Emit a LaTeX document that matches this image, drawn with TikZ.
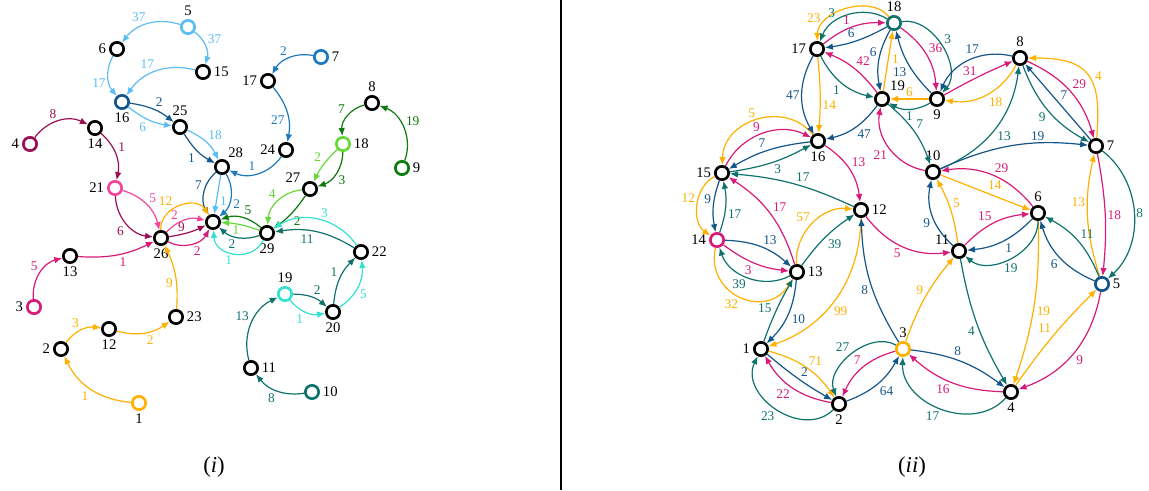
\documentclass[tikz,border=0pt]{standalone}
\usepackage{fontspec}
\setmainfont{Liberation Serif}
\usetikzlibrary{arrows.meta}

\definecolor{clblue}{HTML}{5BBDF4}
\definecolor{cdblue}{HTML}{15568A}
\definecolor{cmblue}{HTML}{1A7AC0}
\definecolor{cdmag}{HTML}{9B0F57}
\definecolor{cpink}{HTML}{F2479E}
\definecolor{cmag}{HTML}{D81B78}
\definecolor{corange}{HTML}{FFB000}
\definecolor{cdgreen}{HTML}{0B7A0B}
\definecolor{clgreen}{HTML}{66D83A}
\definecolor{cteal}{HTML}{0F726C}
\definecolor{ccyan}{HTML}{33E0D2}

\begin{document}
\begin{tikzpicture}[x=0.75pt,y=-0.75pt,
	vtx/.style={circle,draw=black,line width=2pt,minimum size=10pt,inner sep=0pt,fill=white},
	every label/.style={font=\fontsize{11}{11}\selectfont,inner sep=1pt,text=black},
	label distance=1pt,
	ed/.style={line width=0.9pt,-{Latex[length=6pt,width=5pt]}},
	lbl/.style={font=\fontsize{10}{10}\selectfont,inner sep=1.5pt,auto},
	elb/.style={ed,color=clblue}, edb/.style={ed,color=cdblue},
	emb/.style={ed,color=cmblue}, edm/.style={ed,color=cdmag},
	epk/.style={ed,color=cpink}, emg/.style={ed,color=cmag},
	eor/.style={ed,color=corange}, edg/.style={ed,color=cdgreen},
	elg/.style={ed,color=clgreen}, etl/.style={ed,color=cteal},
	ecy/.style={ed,color=ccyan}]
	\useasboundingbox (0,0) rectangle (1149,490);

	% separator between the two panels
	\draw[line width=1.6pt] (561,0) -- (561,490);

	% ---------- panel (i): vertices
	\node[vtx] (a0) at (213,222) {};
	\node[vtx,draw=corange,label=below:1] (a1) at (139,403) {};
	\node[vtx,label=left:2] (a2) at (61,349) {};
	\node[vtx,draw=cmag,label=left:3] (a3) at (34,307) {};
	\node[vtx,draw=cdmag,label=left:4] (a4) at (30,144) {};
	\node[vtx,draw=clblue,label=above:5] (a5) at (188,27) {};
	\node[vtx,label=left:6] (a6) at (117,49) {};
	\node[vtx,draw=cmblue,label=right:7] (a7) at (321,57) {};
	\node[vtx,label=above:8] (a8) at (372,103) {};
	\node[vtx,draw=cdgreen,label=right:9] (a9) at (402,168) {};
	\node[vtx,draw=cteal,label=right:10] (a10) at (312,392) {};
	\node[vtx,label=right:11] (a11) at (251,368) {};
	\node[vtx,label=below:12] (a12) at (109,329) {};
	\node[vtx,label=below:13] (a13) at (70,256) {};
	\node[vtx,label=below:14] (a14) at (95,128) {};
	\node[vtx,label=right:15] (a15) at (203,72) {};
	\node[vtx,draw=cdblue,label=below:16] (a16) at (122,102) {};
	\node[vtx,label=left:17] (a17) at (268,81) {};
	\node[vtx,draw=clgreen,label=right:18] (a18) at (343,144) {};
	\node[vtx,draw=ccyan,label=above:19] (a19) at (285,294) {};
	\node[vtx,label=below:20] (a20) at (333,312) {};
	\node[vtx,draw=cpink,label=left:21] (a21) at (115,188) {};
	\node[vtx,label=right:22] (a22) at (361,252) {};
	\node[vtx,label=right:23] (a23) at (176,317) {};
	\node[vtx,label=left:24] (a24) at (286,150) {};
	\node[vtx,label=above:25] (a25) at (180,127) {};
	\node[vtx,label=below:26] (a26) at (161,238) {};
	\node[vtx,label=150:27] (a27) at (310,189) {};
	\node[vtx,label=60:28] (a28) at (222,167) {};
	\node[vtx,label=below:29] (a29) at (267,233) {};
	\node (capi) at (214,467) {\fontsize{17}{17}\selectfont(\textit{i})};

	% light blue
	\draw[elb] (a5) to[bend right=35] node[lbl,swap] {37} (a6);
	\draw[elb] (a5) to[bend left=35] node[lbl] {37} (a15);
	\draw[elb] (a6) to[bend right=35] node[lbl,swap] {17} (a16);
	\draw[elb] (a15) to[bend right=35] node[lbl,swap] {17} (a16);
	\draw[elb] (a16) to[bend right=15] node[lbl,swap] {6} (a25);
	\draw[elb] (a25) to[bend left=20] node[lbl] {18} (a28);
	\draw[elb] (a28) to node[lbl] {1} (a0);
	% dark blue
	\draw[edb] (a16) to[bend left=15] node[lbl] {2} (a25);
	\draw[edb] (a25) to[bend right=15] node[lbl,swap] {1} (a28);
	\draw[edb] (a28) to[bend right=40] node[lbl,swap] {7} (a0);
	% mid blue
	\draw[emb] (a7) to[bend right=35] node[lbl,swap] {2} (a17);
	\draw[emb] (a17) to[bend left=25] node[lbl,swap] {27} (a24);
	\draw[emb] (a24) to[bend left=40] node[lbl,swap] {1} (a28);
	\draw[emb] (a28) to[bend left=40] node[lbl] {2} (a0);
	% dark magenta
	\draw[edm] (a4) to[bend left=40] node[lbl] {8} (a14);
	\draw[edm] (a14) to[bend left=30] node[lbl] {1} (a21);
	\draw[edm] (a21) to[bend right=40] node[lbl,swap] {6} (a26);
	\draw[edm] (a26) to[bend right=8] node[lbl,inner sep=0.5pt,pos=0.45] {9} (a0);
	% pink
	\draw[epk] (a21) to[bend left=30] node[lbl] {5} (a26);
	\draw[epk] (a26) to[bend left=30] node[lbl,pos=0.4] {2} (a0);
	% magenta
	\draw[emg] (a3) to[bend left=40] node[lbl] {5} (a13);
	\draw[emg] (a13) to[bend right=15] node[lbl,swap] {1} (a26);
	\draw[emg] (a26) to[bend right=45] node[lbl,swap] {2} (a0);
	% orange
	\draw[eor] (a1) to[bend left=30] node[lbl] {1} (a2);
	\draw[eor] (a2) to[bend left=30] node[lbl] {3} (a12);
	\draw[eor] (a12) to[bend right=25] node[lbl,swap] {2} (a23);
	\draw[eor] (a23) to[bend right=15] node[lbl] {9} (a26);
	\draw[eor] (a26) to[bend left=75,looseness=1.2] node[lbl,pos=0.42] {12} (a0);
	% dark green
	\draw[edg] (a9) to[bend right=45] node[lbl,swap] {19} (a8);
	\draw[edg] (a8) to[bend right=40] node[lbl,swap] {7} (a18);
	\draw[edg] (a18) to[bend left=35] node[lbl] {3} (a27);
	\draw[edg] (a27) to[bend left=10] node[lbl] {2} (a29);
	\draw[edg] (a29) to[bend right=30] node[lbl,swap] {5} (a0);
	% light green
	\draw[elg] (a18) to[bend right=10] node[lbl,swap] {2} (a27);
	\draw[elg] (a27) to[bend right=40] node[lbl,swap] {4} (a29);
	\draw[elg] (a29) to[bend right=8] node[lbl,inner sep=0.5pt] {1} (a0);
	% teal
	\draw[etl] (a10) to[bend left=30] node[lbl] {8} (a11);
	\draw[etl] (a11) to[bend left=40] node[lbl] {13} (a19);
	\draw[etl] (a19) to[bend left=20] node[lbl] {2} (a20);
	\draw[etl] (a20) to[bend left=20] node[lbl] {1} (a22);
	\draw[etl] (a22) to[bend right=20] node[lbl] {11} (a29);
	\draw[etl] (a29) to[bend left=30] node[lbl] {2} (a0);
	% cyan
	\draw[ecy] (a19) to[bend right=30] node[lbl,swap] {1} (a20);
	\draw[ecy] (a20) to[bend right=30] node[lbl,swap] {5} (a22);
	\draw[ecy] (a22) to[bend right=45] node[lbl,swap] {3} (a29);
	\draw[ecy] (a29) to[bend left=75,looseness=1.3] node[lbl] {1} (a0);

	% ---------- panel (ii): vertices
	\node[vtx,label=left:1] (b1) at (761,349) {};
	\node[vtx,label=below:2] (b2) at (839,404) {};
	\node[vtx,draw=corange,label=above:3] (b3) at (903,349) {};
	\node[vtx,label=below:4] (b4) at (1011,392) {};
	\node[vtx,draw=cdblue,label=right:5] (b5) at (1102,284) {};
	\node[vtx,label=above:6] (b6) at (1038,213) {};
	\node[vtx,label=right:7] (b7) at (1096,146) {};
	\node[vtx,label=above:8] (b8) at (1020,58) {};
	\node[vtx,label=below:9] (b9) at (937,99) {};
	\node[vtx,label=above:10] (b10) at (933,172) {};
	\node[vtx,label=150:11] (b11) at (959,251) {};
	\node[vtx,label=right:12] (b12) at (861,210) {};
	\node[vtx,label=right:13] (b13) at (797,272) {};
	\node[vtx,draw=cmag,label=left:14] (b14) at (717,240) {};
	\node[vtx,label=left:15] (b15) at (722,173) {};
	\node[vtx,label=below:16] (b16) at (818,141) {};
	\node[vtx,label=left:17] (b17) at (817,49) {};
	\node[vtx,draw=cteal,label=above:18] (b18) at (894,23) {};
	\node[vtx,label=45:19] (b19) at (882,99) {};
	\node (capii) at (912,467) {\fontsize{17}{17}\selectfont(\textit{ii})};

	% orange
	\draw[eor] (b18) to[bend right=70] node[lbl,swap,pos=0.8] {23} (b17);
	\draw[eor] (b19) to node[lbl,swap,pos=0.65] {1} (b18);
	\draw[eor] (b17) to[bend left=5] node[lbl,pos=0.65] {14} (b16);
	\draw[eor] (b9) to node[lbl,swap] {6} (b19);
	\draw[eor] (b8) to[bend left=35] node[lbl] {18} (b9);
	\draw[eor] (b7) to[out=85,in=0,looseness=1.5] node[lbl,swap,pos=0.4] {4} (b8);
	\draw[eor] (b10) to node[lbl] {14} (b6);
	\draw[eor] (b11) to[bend right=10] node[lbl,swap] {5} (b10);
	\draw[eor] (b6) to[bend left=10] node[lbl] {19} (b4);
	\draw[eor] (b5) to[bend left=15] node[lbl,pos=0.62] {13} (b7);
	\draw[eor] (b3) to[bend left=10] node[lbl] {9} (b11);
	\draw[eor] (b4) to[bend left=5] node[lbl] {11} (b5);
	\draw[eor] (b16) to[bend right=70,looseness=1.2] node[lbl,swap] {5} (b15);
	\draw[eor] (b15) to[bend right=60] node[lbl,swap] {12} (b14);
	\draw[eor] (b14) to[bend right=80,looseness=1.5] node[lbl,swap] {32} (b13);
	\draw[eor] (b13) to[bend left=50] node[lbl] {57} (b12);
	\draw[eor] (b12) to[bend left=35] node[lbl,pos=0.55] {99} (b1);
	\draw[eor] (b1) to[bend left=20] node[lbl] {71} (b2);
	% teal
	\draw[etl] (b18) to[bend right=50] node[lbl,swap,pos=0.65] {3} (b17);
	\draw[etl] (b18) to[bend left=70] node[lbl] {3} (b9);
	\draw[etl] (b17) to[bend right=25] node[lbl,swap] {1} (b19);
	\draw[etl] (b19) to[bend left=15] node[lbl] {7} (b10);
	\draw[etl] (b9) to[bend left=30] node[lbl] {1} (b19);
	\draw[etl] (b10) to[bend right=30] node[lbl,swap] {13} (b8);
	\draw[etl] (b8) to[bend right=20] node[lbl,swap] {9} (b7);
	\draw[etl] (b6) to[bend left=65] node[lbl,pos=0.6] {19} (b11);
	\draw[etl] (b5) to[bend right=20] node[lbl,swap] {11} (b6);
	\draw[etl] (b7) to[bend left=50] node[lbl] {8} (b5);
	\draw[etl] (b11) to[bend right=10] node[lbl,swap] {4} (b4);
	\draw[etl] (b15) to[bend right=10] node[lbl,swap] {3} (b16);
	\draw[etl] (b12) to[bend right=10] node[lbl,swap] {17} (b15);
	\draw[etl] (b14) to[bend right=15] node[lbl,swap] {17} (b15);
	\draw[etl] (b13) to[bend left=50] node[lbl] {39} (b14);
	\draw[etl] (b13) to[bend left=10] node[lbl,swap] {39} (b12);
	\draw[etl] (b1) to[bend left=5] node[lbl,pos=0.4] {15} (b13);
	\draw[etl] (b2) to[bend left=80,looseness=1.2] node[lbl] {23} (b1);
	\draw[etl] (b3) to[bend right=70] node[lbl,swap] {27} (b2);
	\draw[etl] (b4) to[bend left=70,looseness=1.1] node[lbl] {17} (b3);
	% magenta
	\draw[emg] (b17) to[bend left=20] node[lbl] {1} (b18);
	\draw[emg] (b18) to[bend left=25] node[lbl] {36} (b9);
	\draw[emg] (b19) to[bend right=15] node[lbl,swap] {42} (b17);
	\draw[emg] (b10) to[bend left=45] node[lbl] {21} (b19);
	\draw[emg] (b9) to[bend left=3] node[lbl,inner sep=0.5pt] {31} (b8);
	\draw[emg] (b8) to[bend left=25] node[lbl] {29} (b7);
	\draw[emg] (b6) to[bend right=30] node[lbl,swap] {29} (b10);
	\draw[emg] (b11) to[bend left=20] node[lbl] {15} (b6);
	\draw[emg] (b7) to[bend left=8] node[lbl] {18} (b5);
	\draw[emg] (b5) to[bend left=30] node[lbl] {9} (b4);
	\draw[emg] (b15) to[bend left=45] node[lbl] {9} (b16);
	\draw[emg] (b16) to[bend left=25] node[lbl] {13} (b12);
	\draw[emg] (b13) to[bend right=20] node[lbl,swap] {17} (b15);
	\draw[emg] (b14) to[bend right=15] node[lbl,swap] {3} (b13);
	\draw[emg] (b12) to[bend right=30] node[lbl,swap] {5} (b11);
	\draw[emg] (b2) to[bend left=25] node[lbl] {22} (b1);
	\draw[emg] (b3) to[bend right=25] node[lbl,swap] {7} (b2);
	\draw[emg] (b4) to[bend left=20] node[lbl] {16} (b3);
	% dark blue
	\draw[edb] (b18) to[bend left=10] node[lbl,swap] {6} (b17);
	\draw[edb] (b18) to[bend right=20] node[lbl,swap] {6} (b19);
	\draw[edb] (b9) to[bend left=15] node[lbl] {13} (b18);
	\draw[edb] (b17) to[bend right=30] node[lbl,swap] {47} (b16);
	\draw[edb] (b19) to[bend left=20] node[lbl] {47} (b16);
	\draw[edb] (b8) to[bend right=40] node[lbl,swap,pos=0.35] {17} (b9);
	\draw[edb] (b7) to node[lbl,swap] {7} (b8);
	\draw[edb] (b10) to[bend left=15] node[lbl,pos=0.68] {19} (b7);
	\draw[edb] (b11) to[bend left=30] node[lbl] {9} (b10);
	\draw[edb] (b6) to[bend left=20] node[lbl] {1} (b11);
	\draw[edb] (b5) to[bend left=25] node[lbl] {6} (b6);
	\draw[edb] (b16) to[bend right=12] node[lbl,swap] {7} (b15);
	\draw[edb] (b15) to[bend right=15] node[lbl,swap] {9} (b14);
	\draw[edb] (b14) to[bend left=20] node[lbl] {13} (b13);
	\draw[edb] (b13) to[bend left=20] node[lbl,pos=0.45] {10} (b1);
	\draw[edb] (b3) to[bend left=15] node[lbl] {8} (b12);
	\draw[edb] (b1) to[bend right=5] node[lbl] {2} (b2);
	\draw[edb] (b2) to[bend right=20] node[lbl,swap] {64} (b3);
	\draw[edb] (b3) to[bend left=15] node[lbl,pos=0.4] {8} (b4);
\end{tikzpicture}
\end{document}
